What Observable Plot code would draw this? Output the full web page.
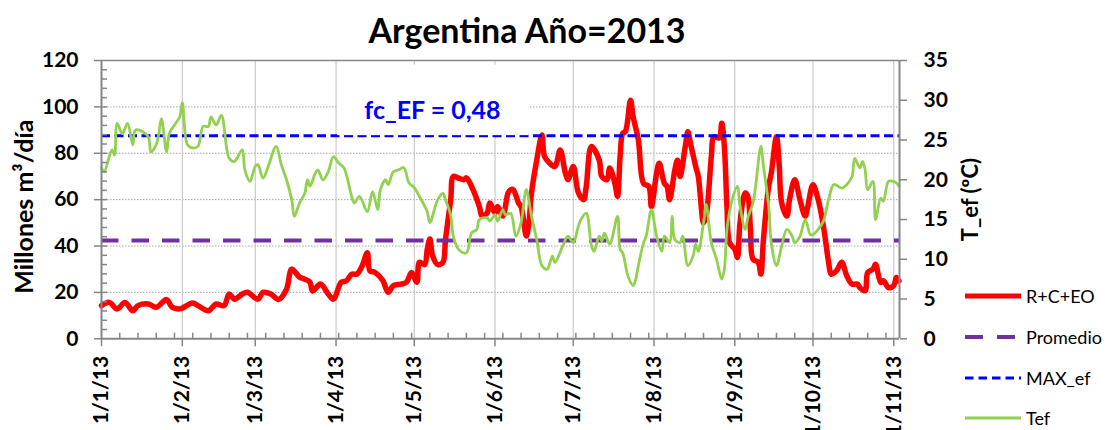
<!DOCTYPE html>
<html>
<head>
<meta charset="utf-8">
<script src="https://cdn.jsdelivr.net/npm/d3@7"></script>
<script src="https://cdn.jsdelivr.net/npm/@observablehq/plot@0.6"></script>
<style>
  body { margin: 0; background: #fff; }
  #wrap { position: relative; width: 1110px; height: 430px; overflow: hidden; background: #fff; font-family: Lato, sans-serif; }
  #title { position: absolute; left: 0; top: 5px; width: 1054px; text-align: center; font: bold 34px Lato, sans-serif; line-height: 50px; color: #000; white-space: nowrap; }
  #chart { position: absolute; left: 0; top: 50px; }
  .lg { position: absolute; left: 965px; height: 22px; }
  .lg svg { position: absolute; left: 0; top: 0; }
  .lg span { position: absolute; left: 61px; top: 0; line-height: 22px; font: 18px Lato, sans-serif; color: #000; white-space: nowrap; }
</style>
</head>
<body>
<div id="wrap">
  <div id="title"></div>
  <div id="chart"></div>
</div>
<script>
// ---------------- data ----------------
const chartTitle = "Argentina Año=2013";
const yLabelLeft = "Millones m³/día";
const yLabelRight = "T_ef (ºC)";

// [day of 2013 (0 = 1 Jan), millones m3/día]
const rceo = [[0,14.3],[3,15.7],[6,12.9],[9,15.7],[12,12.1],[14,14.3],[18,15],[21,13.6],[25,16.9],[27,13.7],[30,12.9],[35,15.4],[37,14.3],[41,12.1],[44,15],[47,14.3],[49,19.3],[51,17.1],[54,19.3],[56,20.1],[60,17.1],[62,20],[65,19.3],[68,17],[71,21.4],[73,30],[76,26.6],[78,25.7],[80,24.4],[81,20.6],[84,23.6],[87,19.3],[89,17.1],[92,24.4],[94,25],[96,27.9],[98,27.9],[100,31.4],[102,37.1],[103,29.3],[105,28.6],[108,25],[110,20.1],[112,22.9],[115,23.6],[117,24.4],[119,28.6],[121,24.4],[122,33],[124,32],[125,38.6],[126,43],[127,36],[129,32],[131,33],[132,43],[134,60],[135,70],[137,69.3],[139,68.6],[140,69.4],[142,65.7],[145,57],[146,52.9],[148,54.3],[149,58.6],[151,54.3],[152,57],[154,52.9],[156,62.9],[157,64.3],[158,64.3],[160,58.6],[161,57],[163,44.3],[164,50],[165,62.9],[167,77],[169,87.9],[170,78.6],[172,75.7],[174,74.3],[176,81.4],[178,71.4],[179,68.6],[181,74.3],[183,62.9],[185,60],[186,65.7],[188,82.9],[191,77],[192,70],[194,68.6],[195,73.6],[197,67],[198,61.4],[199,78.6],[200,88.6],[201,89.3],[203,102.9],[204,95.7],[206,85.7],[208,67],[210,65.7],[211,57],[213,71.4],[214,75.7],[216,67],[217,65.7],[218,60],[220,72.9],[221,77],[222,70],[224,82.9],[225,89.3],[226,84.3],[228,74.3],[229,70],[230,58.6],[231,50],[232,52.9],[234,78.6],[235,87.1],[237,86.6],[238,92.9],[239,82.9],[240,57],[241,41.4],[243,38.6],[244,35],[245,50],[247,62.9],[248,61.4],[249,47],[250,34.3],[252,33],[253,27.9],[254,42.9],[256,65.7],[257,71.4],[259,87.1],[260,75.7],[261,58.6],[263,52.9],[264,60],[266,68.6],[268,60],[270,52.9],[271,57],[273,66.4],[275,60],[277,48.6],[279,33],[280,27.9],[282,29.3],[284,33],[286,27.1],[288,23.6],[290,23.6],[291,22.1],[293,20.7],[294,28.6],[296,30],[297,32.1],[299,24.3],[300,25],[302,22.1],[304,22.9],[305,26.4],[306,25]];

// [day of 2013, ºC]
const tef = [[0,21.5],[1,21],[4,23.75],[5,23.1],[6,27.1],[8,25.8],[10,27.1],[12,24.4],[13,26.25],[16,26],[18,25.4],[19,23.5],[21,24.4],[22,25.8],[23,27.7],[25,23.5],[26,25.8],[28,26.9],[30,27.9],[31,29.7],[33,24.4],[35,24],[37,24.2],[39,26.7],[41,26.7],[42,27.9],[44,26.9],[46,28.1],[49,22.7],[51,22.3],[54,23.75],[55,21.25],[57,19.8],[59,21.7],[60,21.9],[62,20.2],[64,21.7],[67,24.2],[69,21.9],[71,20],[73,17.5],[74,15.4],[76,17.1],[78,18.3],[79,20],[80,19.2],[82,20.8],[83,21.25],[85,20],[87,21],[89,22.9],[91,22.1],[93,21.5],[96,17.9],[97,17.1],[99,17.9],[102,16],[104,18.5],[106,16.25],[107,18.75],[109,20],[110,19.4],[112,21],[114,21.25],[116,21.5],[118,19.6],[120,19],[122,17.9],[124,16.7],[125,16],[126,14.6],[129,17.5],[131,18.3],[132,17.5],[134,15.5],[135,12.9],[137,11.25],[140,10.8],[142,13.3],[144,13.75],[145,15],[148,15.2],[149,14.8],[151,15.6],[152,14.8],[154,16.25],[155,15.6],[157,15.8],[159,12.9],[161,14.6],[163,18.75],[165,15.4],[167,12.5],[169,9.2],[171,8.75],[173,10.4],[174,9.6],[177,11.7],[179,12.9],[181,12.1],[183,14.2],[184,15],[186,15.8],[188,11.7],[189,11],[191,12.9],[192,12.3],[193,13.3],[195,11.9],[198,15.4],[199,11.25],[200,10.8],[202,7.9],[204,6.7],[205,7.5],[206,9.2],[208,12.1],[209,12.9],[211,16.25],[213,12.9],[215,11],[216,12.9],[218,12.1],[219,15.4],[220,12.5],[222,12.1],[223,12.9],[225,9.2],[227,10.4],[228,11.9],[229,11],[231,14.6],[232,16.9],[234,12.1],[236,10],[238,7.5],[239,8.75],[240,13.75],[242,17.5],[244,19.2],[245,16.7],[247,13.75],[248,15.2],[250,17.1],[251,19.2],[253,24.2],[254,21.7],[256,16.7],[257,12.1],[259,9.2],[261,11.7],[263,13.75],[265,12.9],[266,12.1],[268,12.9],[270,15],[272,13.1],[273,13.1],[275,13.75],[277,14.8],[279,17.5],[281,19.4],[284,18.96],[286,19.4],[288,20.4],[289,22.7],[291,21.5],[292,22.3],[293,21.25],[294,18.75],[296,19.8],[297,15],[299,17.7],[300,17.3],[302,19.8],[304,19.8],[305,19.6],[306,19.2]];

const promedio = [42.4];
const maxEf = [87.6];
const annotation = [{label: "fc_EF = 0,48", day: 127, value: 98.4, boxFrom: 90.6, boxTo: 164, boxBottom: 87.6, boxTop: 118}];

const leftTicks = [0, 20, 40, 60, 80, 100, 120];
const rightTicks = [0, 5, 10, 15, 20, 25, 30, 35];
const monthTickDays = [0, 31, 59, 90, 120, 151, 181, 212, 243, 273, 304];
const xTickLabels = ["1/1/13","1/2/13","1/3/13","1/4/13","1/5/13","1/6/13","1/7/13","1/8/13","1/9/13","1/10/13","1/11/13"];
const legendItems = ["R+C+EO", "Promedio", "MAX_ef", "Tef"];

// ---------------- helpers ----------------
const start = Date.UTC(2013, 0, 1);
const dayDate = d => new Date(start + d * 864e5);
const yMax = 120, tMax = 35, k = yMax / tMax;
const xEnd = 306.2;

const rceoData = rceo.map(([d, v]) => ({date: dayDate(d), value: v}));
const tefData = tef.map(([d, t]) => ({date: dayDate(d), value: t * k}));
const monthDates = monthTickDays.map(dayDate);
const weekDates = d3.range(7, xEnd, 7).map(dayDate);
const minorLeft = d3.range(4, 120, 4);

const AX = "#868686";
const RED = "#ff0000", GREEN = "#92d050", PURPLE = "#7030a0", BLUE = "#0000ff";

document.getElementById("title").textContent = chartTitle;

const chart = Plot.plot({
  width: 1110,
  height: 380,
  marginLeft: 101,
  marginRight: 211,
  marginTop: 10,
  marginBottom: 91.7,
  style: {fontFamily: "Lato, sans-serif", fontSize: "21px", fontWeight: "bold", color: "black", background: "white", overflow: "visible"},
  x: {type: "utc", domain: [dayDate(0), dayDate(xEnd)]},
  y: {domain: [0, yMax]},
  marks: [
    // gridlines
    Plot.ruleY(leftTicks.filter(v => v > 0 && v < yMax), {stroke: "#a6a6a6", strokeWidth: 1, strokeDasharray: "1.5,1.5"}),
    Plot.ruleX(monthDates.slice(1), {stroke: "#c0c0c0", strokeWidth: 1}),
    Plot.ruleY([yMax], {stroke: AX, strokeWidth: 1.5}),
    // series
    Plot.lineY(rceoData, {x: "date", y: "value", stroke: RED, strokeWidth: 5.5, curve: "catmull-rom", strokeLinejoin: "round"}),
    Plot.ruleY(promedio, {stroke: PURPLE, strokeWidth: 4, strokeDasharray: "17.5,13"}),
    Plot.ruleY(maxEf, {stroke: BLUE, strokeWidth: 3, strokeDasharray: "9,4.5"}),
    Plot.rectY(annotation, {x1: d => dayDate(d.boxFrom), x2: d => dayDate(d.boxTo), y1: "boxBottom", y2: "boxTop", fill: "white"}),
    Plot.lineY(tefData, {x: "date", y: "value", stroke: GREEN, strokeWidth: 2.8, curve: "catmull-rom", strokeLinejoin: "round"}),
    Plot.text(annotation, {x: d => dayDate(d.day), y: "value", text: "label", fill: BLUE, fontSize: 25, fontWeight: "bold"}),
    // minor ticks (inside)
    Plot.ruleX(weekDates, {y1: 0, y2: 2.4, stroke: AX, strokeWidth: 1.5}),
    Plot.ruleY(minorLeft, {x1: dayDate(0), x2: dayDate(2.3), stroke: AX, strokeWidth: 1.5}),
    // axes
    Plot.axisY({anchor: "left", ticks: leftTicks, tickFormat: d => d, tickSize: 7, tickPadding: 16, stroke: AX, strokeWidth: 1.5, fill: "black", fontSize: 21, fontWeight: "bold", label: null}),
    Plot.axisY({anchor: "right", ticks: rightTicks.map(t => t * k), tickFormat: d => Math.round(d / k), tickSize: 7, tickPadding: 17, stroke: AX, strokeWidth: 1.5, fill: "black", fontSize: 21, fontWeight: "bold", label: null}),
    Plot.axisX({anchor: "bottom", ticks: monthDates, tickFormat: (d, i) => xTickLabels[i], tickSize: 8, tickPadding: 9, tickRotate: -90, stroke: AX, strokeWidth: 1.5, fill: "black", fontSize: 21, fontWeight: "bold", label: null}),
    Plot.ruleX([dayDate(0)], {stroke: AX, strokeWidth: 2}),
    Plot.ruleX([dayDate(xEnd)], {stroke: AX, strokeWidth: 2}),
    Plot.ruleY([0], {stroke: AX, strokeWidth: 2}),
    // axis titles
    Plot.text([yLabelLeft], {frameAnchor: "left", textAnchor: "middle", dx: -77, dy: 7, rotate: -90, fontSize: 25, fontWeight: "bold", fill: "black"}),
    Plot.text([yLabelRight], {frameAnchor: "right", textAnchor: "middle", dx: 71, dy: 0, rotate: -90, fontSize: 22, fontWeight: "bold", fill: "black"})
  ]
});
document.getElementById("chart").appendChild(chart);

// legend
const legendStyles = [
  {stroke: RED, width: 5, dash: null},
  {stroke: PURPLE, width: 4, dash: "18,14"},
  {stroke: BLUE, width: 3, dash: "8.5,5"},
  {stroke: GREEN, width: 3, dash: null}
];
const legendCenters = [296, 337, 377.5, 418];
const wrap = document.getElementById("wrap");
legendItems.forEach((name, i) => {
  const s = legendStyles[i];
  const div = document.createElement("div");
  div.className = "lg";
  div.style.top = (legendCenters[i] - 11) + "px";
  div.innerHTML = `<svg width="56" height="22"><line x1="0" x2="56" y1="11" y2="11" stroke="${s.stroke}" stroke-width="${s.width}" ${s.dash ? `stroke-dasharray="${s.dash}"` : ""}/></svg><span>${name}</span>`;
  wrap.appendChild(div);
});
</script>
</body>
</html>
